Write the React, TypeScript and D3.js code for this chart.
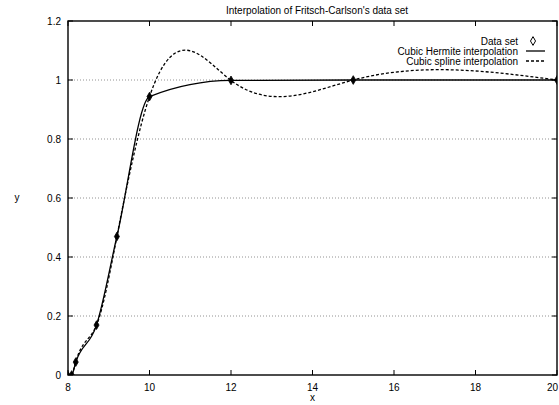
import React, { useRef, useEffect } from 'react';
import * as d3 from 'd3';

// Fritsch-Carlson data set
const xData = [7.99, 8.09, 8.19, 8.7, 9.2, 10, 12, 15, 20];
const yData = [0, 2.76429e-5, 4.37498e-2, 0.169183, 0.469428, 0.94374, 0.998636, 0.999919, 0.999994];

const xTicks = [8, 10, 12, 14, 16, 18, 20];
const yTicks = [0, 0.2, 0.4, 0.6, 0.8, 1, 1.2];
const yGrid = [0.2, 0.4, 0.6, 0.8, 1];
const yTickLabels = ['0', '0.2', '0.4', '0.6', '0.8', '1', '1.2'];

const legendItems = ['Data set', 'Cubic Hermite interpolation', 'Cubic spline interpolation'];

// natural cubic spline y(x), drawn as bezier segments
function curveSplineX(context: any) {
  let xs: number[] = [];
  let ys: number[] = [];
  return {
    areaStart() {},
    areaEnd() {},
    lineStart() { xs = []; ys = []; },
    point(x: number, y: number) { xs.push(+x); ys.push(+y); },
    lineEnd() {
      const n = xs.length - 1;
      if (n < 1) return;
      const h: number[] = [];
      for (let i = 0; i < n; i++) h.push(xs[i + 1] - xs[i]);
      // second derivatives, M0 = Mn = 0
      const M = new Array(n + 1).fill(0);
      if (n > 1) {
        const a: number[] = [], b: number[] = [], c: number[] = [], r: number[] = [];
        for (let i = 1; i < n; i++) {
          a.push(h[i - 1]);
          b.push(2 * (h[i - 1] + h[i]));
          c.push(h[i]);
          r.push(6 * ((ys[i + 1] - ys[i]) / h[i] - (ys[i] - ys[i - 1]) / h[i - 1]));
        }
        const m = b.length;
        for (let i = 1; i < m; i++) {
          const w = a[i] / b[i - 1];
          b[i] -= w * c[i - 1];
          r[i] -= w * r[i - 1];
        }
        const sol = new Array(m).fill(0);
        sol[m - 1] = r[m - 1] / b[m - 1];
        for (let i = m - 2; i >= 0; i--) sol[i] = (r[i] - c[i] * sol[i + 1]) / b[i];
        for (let i = 0; i < m; i++) M[i + 1] = sol[i];
      }
      context.moveTo(xs[0], ys[0]);
      for (let i = 0; i < n; i++) {
        const s = (ys[i + 1] - ys[i]) / h[i];
        const m0 = s - (h[i] * (2 * M[i] + M[i + 1])) / 6;
        const m1 = s + (h[i] * (M[i] + 2 * M[i + 1])) / 6;
        context.bezierCurveTo(
          xs[i] + h[i] / 3, ys[i] + (m0 * h[i]) / 3,
          xs[i + 1] - h[i] / 3, ys[i + 1] - (m1 * h[i]) / 3,
          xs[i + 1], ys[i + 1]
        );
      }
    },
  };
}

const App = () => {
  const ref = useRef<SVGSVGElement>(null);

  useEffect(() => {
    const width = 559;
    const height = 405;
    const left = 68, right = 557, top = 21, bottom = 375;

    const svg = d3.select(ref.current);
    svg.selectAll('*').remove();
    svg.attr('width', width).attr('height', height)
      .style('font-family', '"Liberation Sans", Arial, sans-serif')
      .style('font-size', '10px');

    const x = d3.scaleLinear().domain([8, 20]).range([left, right]);
    const y = d3.scaleLinear().domain([0, 1.2]).range([bottom, top]);

    svg.append('rect').attr('width', width).attr('height', height).attr('fill', '#fff');

    svg.append('defs').append('clipPath').attr('id', 'plotclip')
      .append('rect').attr('x', left).attr('y', top)
      .attr('width', right - left).attr('height', bottom - top);

    // grid
    svg.append('g').selectAll('line').data(yGrid).enter().append('line')
      .attr('x1', left).attr('x2', right)
      .attr('y1', d => y(d)).attr('y2', d => y(d))
      .attr('stroke', '#777').attr('stroke-width', 0.8)
      .attr('stroke-dasharray', '1,2');

    // frame
    svg.append('rect').attr('x', left).attr('y', top)
      .attr('width', right - left).attr('height', bottom - top)
      .attr('fill', 'none').attr('stroke', '#000').attr('stroke-width', 1.4);

    // ticks
    const tk = 5;
    const tg = svg.append('g').attr('stroke', '#000').attr('stroke-width', 1);
    xTicks.forEach(t => {
      tg.append('line').attr('x1', x(t)).attr('x2', x(t)).attr('y1', bottom).attr('y2', bottom - tk);
      tg.append('line').attr('x1', x(t)).attr('x2', x(t)).attr('y1', top).attr('y2', top + tk);
    });
    yTicks.forEach(t => {
      tg.append('line').attr('x1', left).attr('x2', left + tk).attr('y1', y(t)).attr('y2', y(t));
      tg.append('line').attr('x1', right).attr('x2', right - tk).attr('y1', y(t)).attr('y2', y(t));
    });

    // tick labels (last one kept inside the page)
    svg.append('g').selectAll('text').data(xTicks).enter().append('text')
      .attr('x', (d, i) => (i === xTicks.length - 1 ? width - 1 : x(d)))
      .attr('y', 391)
      .attr('text-anchor', (d, i) => (i === xTicks.length - 1 ? 'end' : 'middle'))
      .attr('fill', '#000')
      .text(d => String(d));
    svg.append('g').selectAll('text').data(yTicks).enter().append('text')
      .attr('x', 61).attr('y', d => y(d) + 3.5)
      .attr('text-anchor', 'end').attr('fill', '#000')
      .text((d, i) => yTickLabels[i]);

    // axis labels + title
    svg.append('text').attr('x', x(14)).attr('y', 401).attr('text-anchor', 'middle').text('x');
    svg.append('text').attr('x', 17).attr('y', 201).attr('text-anchor', 'middle').text('y');
    svg.append('text').attr('x', 317).attr('y', 14).attr('text-anchor', 'middle')
      .text("Interpolation of Fritsch-Carlson's data set");

    const pts: [number, number][] = xData.map((d, i) => [d, yData[i]]);
    const plot = svg.append('g').attr('clip-path', 'url(#plotclip)');

    const hermite = d3.line<[number, number]>()
      .x(d => x(d[0])).y(d => y(d[1]))
      .curve(d3.curveMonotoneX);
    const spline = d3.line<[number, number]>()
      .x(d => x(d[0])).y(d => y(d[1]))
      .curve(curveSplineX as any);

    plot.append('path').attr('d', spline(pts))
      .attr('fill', 'none').attr('stroke', '#000').attr('stroke-width', 1.3)
      .attr('stroke-dasharray', '3,2');
    plot.append('path').attr('d', hermite(pts))
      .attr('fill', 'none').attr('stroke', '#000').attr('stroke-width', 1.3);

    const diamond = d3.symbol().type(d3.symbolDiamond).size(22);
    plot.append('g').selectAll('path').data(pts).enter().append('path')
      .attr('d', diamond)
      .attr('transform', d => `translate(${x(d[0])},${y(d[1])})`)
      .attr('fill', '#000').attr('stroke', '#000').attr('stroke-width', 0.8);

    // legend
    const lg = svg.append('g');
    legendItems.forEach((name, i) => {
      const cy = 41 + i * 10;
      lg.append('text').attr('x', 518).attr('y', cy + 3.5).attr('text-anchor', 'end').text(name);
      if (i === 0) {
        lg.append('path').attr('d', diamond)
          .attr('transform', `translate(533,${cy})`)
          .attr('fill', 'none').attr('stroke', '#000').attr('stroke-width', 1);
      } else {
        lg.append('line').attr('x1', 526).attr('x2', 545).attr('y1', cy).attr('y2', cy)
          .attr('stroke', '#000').attr('stroke-width', 1.3)
          .attr('stroke-dasharray', i === 2 ? '3,2' : null);
      }
    });
  }, []);

  return <svg ref={ref} style={{ position: 'absolute', left: 0, top: 0 }} />;
};

export default App;
